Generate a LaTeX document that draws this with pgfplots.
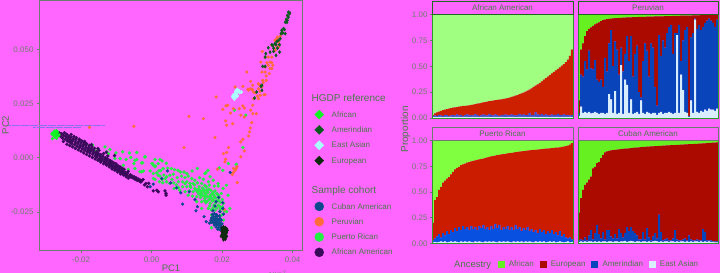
\documentclass[border=0pt]{standalone}
\usepackage{pgfplots}
\usepackage{pgfplotstable}
\usepackage{fontspec}
\setmainfont{Liberation Sans}
\pgfplotsset{compat=1.18}
\definecolor{bg}{HTML}{FF66FF}
\definecolor{txt}{HTML}{4A7A4A}
\definecolor{tickc}{HTML}{6E7E6E}
\definecolor{gborder}{HTML}{2A9A2A}
\definecolor{cCu}{HTML}{0A4A8C}
\definecolor{cPe}{HTML}{FF6B3A}
\definecolor{cPr}{HTML}{22EE44}
\definecolor{cAa}{HTML}{3A0A5A}
\definecolor{rAf}{HTML}{11F522}
\definecolor{rAm}{HTML}{0B5A1E}
\definecolor{rEa}{HTML}{AAFFFF}
\definecolor{rEu}{HTML}{0E2A0E}
\definecolor{kAf}{HTML}{66F022}
\definecolor{kEu}{HTML}{AA0A00}
\definecolor{kAm}{HTML}{0A44BB}
\definecolor{kEa}{HTML}{D8EEFF}
\definecolor{lAf}{HTML}{A0FF80}
\definecolor{lEu}{HTML}{CC2000}
\definecolor{lAm}{HTML}{4050C8}
\definecolor{mAf}{HTML}{80FF40}
\definecolor{mEu}{HTML}{CC1C00}
\definecolor{mAm}{HTML}{0850E0}
\definecolor{stray}{HTML}{8A70F0}

% tops of the East Asian, Amerindian and European segments, bar by bar
\pgfplotstableread[row sep=\\]{
a b c\\
.008 .02 .03\\ .01 .025 .045\\ .008 .02 .055\\ .01 .03 .062\\ .012 .025 .07\\ .008 .02 .075\\ .01 .03 .08\\ .012 .03 .085\\ .01 .02 .09\\ .012 .025 .095\\
.008 .03 .10\\ .01 .025 .103\\ .01 .035 .106\\ .012 .025 .11\\ .008 .03 .113\\ .01 .02 .116\\ .012 .03 .118\\ .01 .035 .12\\ .008 .025 .123\\ .01 .03 .127\\
.012 .025 .13\\ .01 .04 .134\\ .01 .03 .138\\ .008 .02 .142\\ .012 .03 .146\\ .01 .035 .15\\ .01 .03 .154\\ .012 .025 .158\\ .01 .04 .162\\ .008 .03 .165\\
.01 .025 .168\\ .012 .035 .172\\ .01 .03 .175\\ .01 .02 .178\\ .012 .03 .181\\ .01 .03 .184\\ .008 .035 .188\\ .01 .025 .192\\ .012 .03 .197\\ .01 .035 .203\\
.01 .03 .21\\ .008 .025 .216\\ .012 .03 .222\\ .01 .04 .23\\ .01 .03 .238\\ .012 .035 .246\\ .01 .03 .255\\ .008 .03 .265\\ .01 .05 .275\\ .012 .03 .287\\
.01 .03 .30\\ .01 .06 .312\\ .008 .035 .325\\ .012 .03 .34\\ .01 .04 .355\\ .01 .03 .37\\ .012 .035 .385\\ .01 .03 .40\\ .008 .025 .415\\ .01 .035 .43\\
.012 .03 .445\\ .01 .03 .46\\ .01 .04 .475\\ .008 .03 .49\\ .012 .03 .505\\ .01 .035 .52\\ .01 .03 .54\\ .012 .03 .565\\ .01 .025 .60\\ .008 .03 .66\\
}\tabAA
\pgfplotstableread[row sep=\\]{
a b c\\
.02 .05 .17\\ .11 .42 .66\\ .05 .40 .72\\ .06 .55 .79\\ .05 .47 .84\\ .06 .65 .86\\ .045 .48 .875\\ .05 .47 .89\\ .06 .56 .905\\ .05 .37 .915\\
.04 .35 .925\\ .05 .37 .935\\ .05 .30 .945\\ .04 .58 .95\\ .05 .45 .955\\ .23 .72 .958\\ .18 .85 .96\\ .05 .50 .962\\ .26 .74 .964\\ .04 .66 .966\\
.05 .42 .967\\ .51 .68 .968\\ .04 .45 .969\\ .37 .62 .97\\ .32 .79 .971\\ .05 .55 .972\\ .18 .79 .973\\ .04 .40 .974\\ .05 .62 .975\\ .06 .70 .975\\
.04 .25 .976\\ .17 .20 .977\\ .05 .55 .977\\ .04 .72 .978\\ .06 .65 .979\\ .05 .40 .979\\ .04 .72 .98\\ .05 .68 .98\\ .05 .30 .981\\ .03 .12 .981\\
.05 .80 .982\\ .06 .60 .982\\ .04 .75 .983\\ .05 .68 .984\\ .05 .82 .984\\ .06 .88 .985\\ .05 .90 .985\\ .04 .62 .986\\ .05 .82 .986\\ .80 .82 .987\\
.05 .90 .987\\ .42 .55 .988\\ .27 .75 .988\\ .06 .85 .989\\ .05 .88 .989\\ .01 .02 .99\\ .17 .78 .99\\ .05 .82 .991\\ .95 .96 .991\\ .06 .86 .992\\
.05 .90 .992\\ .07 .85 .993\\ .06 .88 .993\\ .08 .92 .994\\ .07 .94 .994\\ .09 .96 .995\\ .08 .94 .995\\ .08 .92 .995\\ .07 .88 .995\\ .09 .95 .995\\
}\tabPE
\pgfplotstableread[row sep=\\]{
a b c\\
.01 .03 .20\\ .015 .05 .42\\ .01 .07 .45\\ .015 .09 .52\\ .02 .06 .55\\ .015 .10 .59\\ .02 .08 .61\\ .01 .12 .63\\ .015 .09 .645\\ .02 .13 .67\\
.015 .11 .695\\ .02 .15 .72\\ .015 .12 .735\\ .01 .16 .745\\ .02 .13 .76\\ .015 .17 .768\\ .02 .14 .775\\ .015 .16 .785\\ .02 .13 .79\\ .015 .17 .797\\
.01 .14 .803\\ .02 .16 .808\\ .015 .13 .812\\ .02 .17 .817\\ .015 .15 .82\\ .01 .18 .825\\ .02 .14 .83\\ .015 .16 .835\\ .02 .13 .84\\ .015 .17 .845\\
.02 .14 .849\\ .015 .19 .853\\ .01 .15 .857\\ .02 .18 .861\\ .015 .13 .865\\ .02 .16 .868\\ .015 .14 .871\\ .02 .17 .874\\ .015 .13 .877\\ .01 .16 .88\\
.02 .13 .883\\ .015 .18 .886\\ .02 .14 .889\\ .015 .16 .892\\ .02 .12 .895\\ .01 .15 .897\\ .02 .13 .90\\ .015 .16 .902\\ .02 .12 .904\\ .015 .14 .906\\
.01 .11 .908\\ .02 .13 .91\\ .015 .10 .912\\ .02 .14 .914\\ .015 .11 .916\\ .02 .13 .918\\ .01 .09 .92\\ .015 .12 .922\\ .02 .10 .924\\ .015 .13 .926\\
.02 .09 .928\\ .01 .11 .93\\ .015 .08 .932\\ .02 .12 .934\\ .015 .07 .937\\ .01 .09 .94\\ .015 .06 .945\\ .02 .05 .95\\ .01 .06 .96\\ .015 .04 .975\\
}\tabPR
\pgfplotstableread[row sep=\\]{
a b c\\
.015 .03 .30\\ .02 .04 .44\\ .015 .03 .52\\ .02 .06 .57\\ .015 .03 .59\\ .02 .08 .62\\ .02 .13 .65\\ .015 .04 .73\\ .02 .10 .745\\ .015 .18 .78\\
.02 .09 .79\\ .015 .05 .83\\ .02 .11 .86\\ .02 .04 .885\\ .015 .13 .895\\ .02 .13 .90\\ .02 .07 .905\\ .015 .05 .907\\ .02 .09 .91\\ .02 .05 .912\\
.015 .14 .914\\ .02 .10 .916\\ .02 .06 .918\\ .025 .10 .92\\ .015 .16 .922\\ .02 .12 .924\\ .025 .16 .926\\ .02 .12 .928\\ .015 .10 .93\\ .02 .08 .932\\
.02 .04 .934\\ .015 .04 .936\\ .02 .11 .937\\ .02 .04 .938\\ .015 .15 .94\\ .02 .06 .94\\ .015 .03 .942\\ .02 .07 .944\\ .025 .10 .945\\ .02 .05 .946\\
.015 .28 .947\\ .02 .11 .948\\ .015 .03 .95\\ .02 .04 .951\\ .02 .05 .952\\ .015 .03 .953\\ .02 .03 .954\\ .02 .05 .955\\ .015 .13 .956\\ .02 .04 .957\\
.015 .03 .958\\ .02 .03 .96\\ .02 .04 .961\\ .015 .05 .962\\ .02 .03 .963\\ .015 .08 .964\\ .02 .04 .965\\ .015 .03 .966\\ .02 .03 .967\\ .02 .04 .968\\
.015 .03 .969\\ .02 .03 .97\\ .015 .14 .971\\ .02 .11 .972\\ .015 .03 .975\\ .02 .03 .977\\ .015 .03 .978\\ .015 .02 .98\\ .012 .02 .98\\ .012 .02 .982\\
}\tabCU

\newcommand{\stackbars}[5]{%
  \addplot[fill=#5,draw=none] table[x expr=\coordindex,y=a] {#1};
  \addplot[fill=#4,draw=none] table[x expr=\coordindex,y expr=\thisrow{b}-\thisrow{a}] {#1};
  \addplot[fill=#3,draw=none] table[x expr=\coordindex,y expr=\thisrow{c}-\thisrow{b}] {#1};
  \addplot[fill=#2,draw=none] table[x expr=\coordindex,y expr=1-\thisrow{c}] {#1};
}
\pgfplotsset{
  facet/.style={
    scale only axis, ybar stacked, bar width=1, axis on top,
    xmin=-0.5, xmax=69.5, ymin=0, ymax=1,
    xtick=\empty,
    axis line style={gborder,line width=0.9pt},
    tick style={tickc,line width=0.5pt},
    major tick length=2pt,
    tick align=outside,
    tick pos=left,
    tick label style={font=\fontsize{8}{9}\selectfont,text=tickc},
    yticklabel style={xshift=1pt},
  },
  leftcol/.style={ytick={0,0.25,0.5,0.75,1},yticklabels={0.00,0.25,0.50,0.75,1.00}},
  rightcol/.style={ytick=\empty},
}
\begin{document}
\begin{tikzpicture}[x=1pt,y=1pt]
\path[use as bounding box,fill=bg] (0,0) rectangle (720,273);
\begin{axis}[
  at={(39.5pt,22.5pt)},anchor=south west,scale only axis,width=263pt,height=250pt,
  xmin=-0.03177,xmax=0.0428,ymin=-0.0428,ymax=0.0725,
  clip=false,
  axis line style={tickc,line width=0.9pt},
  tick style={tickc,line width=0.5pt},major tick length=2.5pt,tick align=outside,tick pos=left,
  xtick={-0.02,0,0.02,0.04},xticklabels={-0.02,0.00,0.02,0.04},
  ytick={-0.025,0,0.025,0.05},yticklabels={-0.025,0.000,0.025,0.050},
  tick label style={font=\fontsize{8}{9}\selectfont,text=tickc},
]
% Puerto Rican
\addplot[only marks,mark=*,mark size=1.5pt,color=cPr] coordinates {
(-.0184,.0062)(-.0167,.0058)(-.0132,.0050)(-.0127,.0027)(-.0118,.0038)(-.0122,.0019)(-.0157,.0031)(-.0101,.0022)(-.0082,.0027)(-.0063,.0022)(-.0042,.0024)(-.0018,.0004)(.0010,-.0008)(-.0104,-.0004)(-.0089,-.0004)(-.0072,-.0008)(-.0059,.0001)(-.0047,-.0012)(-.0042,-.0009)(-.0028,-.0024)(-.0050,-.0027)(-.0080,-.0035)(-.0066,-.0054)(-.0047,-.0050)(-.0033,-.0065)(-.0023,-.0061)(.0001,-.0027)(.0005,-.0034)(.0010,-.0042)(.0019,-.0027)(-.0004,-.0061)(.0005,-.0073)(.0015,-.0070)(.0019,-.0081)(.0005,-.0096)
(-.0019,.0004)(-.0025,-.0024)(-.0028,-.0065)(.0024,-.0008)(.0030,-.0015)(.0042,-.0026)(.0003,-.0027)(.0011,-.0039)(.0021,-.0060)(.0039,-.0096)(.0026,-.0060)(.0033,-.0050)(.0046,-.0048)(.0056,-.0050)(.0065,-.0055)(.0075,-.0058)(.0082,-.0066)(.0092,-.0066)(.0100,-.0073)(.0115,-.0061)(.0130,-.0050)(.0154,-.0070)(.0166,-.0088)
(.0024,-.0085)(.0035,-.0080)(.0043,-.0088)(.0052,-.0081)(.0062,-.0076)(.0073,-.0092)(.0085,-.0085)(.0095,-.0092)(.0104,-.0085)(.0114,-.0096)(.0123,-.0104)(.0136,-.0092)(.0147,-.0100)(.0161,-.0111)(.0175,-.0104)(.0189,-.0119)
(.0010,-.0100)(.0022,-.0111)(.0032,-.0116)(.0043,-.0111)(.0052,-.0119)(.0063,-.0116)(.0076,-.0111)(.0088,-.0111)(.0100,-.0111)(.0109,-.0119)(.0118,-.0119)(.0130,-.0116)(.0142,-.0119)(.0151,-.0127)(.0164,-.0127)(.0178,-.0131)(.0189,-.0131)(.0203,-.0142)
(.0064,-.0142)(.0076,-.0137)(.0088,-.0134)(.0100,-.0134)(.0111,-.0137)(.0123,-.0142)(.0135,-.0134)(.0147,-.0146)(.0156,-.0150)(.0168,-.0150)(.0180,-.0153)
(.0095,-.0157)(.0107,-.0153)(.0118,-.0157)(.0130,-.0157)(.0142,-.0165)(.0154,-.0168)(.0166,-.0173)(.0177,-.0173)(.0189,-.0173)(.0198,-.0165)
(.0104,-.0173)(.0116,-.0177)(.0128,-.0180)(.0139,-.0184)(.0151,-.0188)(.0164,-.0193)(.0175,-.0196)(.0189,-.0196)(.0201,-.0193)
(.0128,-.0203)(.0142,-.0203)(.0154,-.0208)(.0166,-.0211)(.0177,-.0219)(.0189,-.0219)(.0204,-.0211)(.0194,-.0226)(.0180,-.0242)(.0194,-.0249)(.0206,-.0245)(.0213,-.0249)(.0161,-.0234)(.0170,-.0265)(.0199,-.0265)(.0204,-.0288)(.0194,-.0311)(.0170,-.0323)(.0142,-.0234)(.0222,-.0234)(.0201,-.0226)(.0212,-.0127)(.0217,-.0173)(.0202,-.0234)(.0151,-.0073)(.0160,-.0058)
(.0110,-.0130)(.0122,-.0125)(.0133,-.0145)(.0145,-.0140)(.0155,-.0135)(.0140,-.0155)(.0150,-.0160)(.0160,-.0160)(.0172,-.0165)(.0133,-.0165)(.0145,-.0175)(.0158,-.0180)(.0170,-.0185)(.0182,-.0185)(.0150,-.0198)(.0172,-.0200)(.0182,-.0208)
(.0235,.0219)(.0267,.0196)(.0259,.0047)(.0218,-.0027)(.0240,-.0030)(.0192,-.0047)(.0202,-.0058)
(.0125,-.0148)(.0138,-.0152)(.0148,-.0152)(.0162,-.0145)(.0175,-.0160)(.0185,-.0165)(.0138,-.0172)(.0152,-.0178)(.0165,-.0180)(.0178,-.0182)(.0192,-.0182)(.0158,-.0200)(.0185,-.0200)(.0195,-.0205)(.0165,-.0222)(.0185,-.0232)(.0175,-.0230)(.0195,-.0238)(.0170,-.0240)(.0030,-.0100)(.0058,-.0100)(.0070,-.0125)(.0095,-.0120)(.0080,-.0150)
};
% Peruvian
\addplot[only marks,mark=*,mark size=1.4pt,color=cPe] coordinates {
(.0357,.0556)(.0365,.0561)(.0350,.0541)(.0360,.0533)(.0353,.0518)(.0360,.0510)(.0348,.0503)(.0351,.0495)(.0341,.0518)(.0355,.0549)(.0314,.0490)(.0331,.0464)(.0322,.0464)(.0341,.0464)(.0336,.0441)(.0310,.0441)(.0327,.0438)(.0341,.0438)(.0331,.0426)(.0344,.0426)(.0322,.0418)(.0336,.0411)(.0341,.0411)(.0270,.0395)(.0313,.0395)(.0322,.0395)(.0334,.0388)(.0325,.0377)(.0315,.0357)(.0325,.0357)(.0281,.0352)(.0306,.0337)(.0317,.0346)(.0303,.0341)(.0287,.0334)(.0259,.0329)(.0313,.0326)(.0273,.0315)(.0284,.0315)(.0303,.0318)(.0308,.0306)(.0289,.0303)(.0294,.0300)(.0322,.0291)(.0237,.0326)
(.0183,.0280)(.0211,.0239)(.0216,.0242)(.0202,.0223)(.0232,.0226)(.0224,.0206)(.0249,.0226)(.0259,.0239)(.0263,.0229)(.0253,.0196)(.0263,.0188)(.0281,.0219)(.0287,.0242)(.0287,.0203)(.0297,.0203)(.0284,.0162)(.0147,.0180)(.0210,.0170)(.0230,.0157)(.0213,.0150)(.0280,.0137)(.0278,.0119)(.0275,.0100)(.0180,.0093)(.0259,.0085)(.0253,.0073)(.0218,.0047)(.0263,.0031)(.0213,.0024)(.0204,.0019)(.0210,-.0007)(.0253,.0004)(.0187,-.0053)(.0208,-.0019)(.0232,-.0049)(.0242,-.0042)(.0237,-.0058)(.0232,-.0068)(.0240,-.0050)(.0229,-.0078)
(.0289,.0272)(.0300,.0284)(.0308,.0288)(.0280,.0318)(.0286,.0315)(.0303,.0272)(.0319,.0290)(.0275,.0311)
(.0106,.0191)(-.0050,.0145)(-.0176,.0140)(.0092,.0047)(.0200,-.0340)(.0243,-.0115)(.0205,-.0350)(.0207,-.0240)
};
% Cuban American
\addplot[only marks,mark=*,mark size=1.4pt,color=cCu] coordinates {
(.0126,-.0245)(.0130,-.0226)(.0149,-.0272)(.0155,-.0295)(.0088,-.0214)(.0045,-.0061)(.0029,-.0096)(.0005,-.0122)(-.0004,-.0134)(.0071,-.0139)(.0083,-.0162)(.0107,-.0157)(.0054,-.0116)(.0123,-.0193)(.0190,-.0183)(.0202,-.0208)(.0180,-.0223)(.0202,-.0234)(.0194,-.0249)(.0174,-.0245)(.0204,-.0260)(.0183,-.0203)(.0223,-.0068)
(.0172,-.0262)(.0178,-.0258)(.0184,-.0262)(.0175,-.0270)(.0181,-.0272)(.0187,-.0270)(.0193,-.0268)(.0170,-.0278)(.0176,-.0281)(.0182,-.0280)(.0188,-.0283)(.0194,-.0280)(.0168,-.0288)(.0174,-.0290)(.0180,-.0290)(.0186,-.0292)(.0192,-.0290)(.0198,-.0288)(.0170,-.0298)(.0176,-.0300)(.0182,-.0299)(.0188,-.0302)(.0194,-.0300)(.0200,-.0305)(.0164,-.0302)(.0178,-.0310)(.0185,-.0310)(.0191,-.0312)(.0197,-.0310)(.0183,-.0320)(.0190,-.0322)(.0197,-.0320)(.0203,-.0322)(.0188,-.0330)(.0195,-.0332)(.0201,-.0335)
};
% African American
\addplot[only marks,mark=*,mark size=1.5pt,color=cAa] coordinates {
(-.0269,.0111)(-.0264,.0103)(-.0262,.0115)(-.0258,.0098)(-.0255,.0110)(-.0252,.0090)(-.0250,.0103)(-.0247,.0115)(-.0245,.0085)(-.0243,.0097)(-.0241,.0108)(-.0239,.0078)(-.0237,.0090)(-.0235,.0100)(-.0233,.0072)(-.0231,.0083)(-.0229,.0094)(-.0228,.0107)(-.0226,.0065)(-.0224,.0077)(-.0222,.0087)(-.0220,.0098)(-.0218,.0060)(-.0216,.0071)(-.0215,.0082)(-.0213,.0092)(-.0211,.0053)(-.0209,.0064)(-.0207,.0074)(-.0205,.0085)(-.0204,.0047)(-.0202,.0057)(-.0200,.0068)(-.0198,.0078)(-.0196,.0041)(-.0195,.0051)(-.0193,.0061)(-.0191,.0070)(-.0189,.0034)(-.0187,.0045)(-.0186,.0055)(-.0184,.0064)
(-.0182,.0028)(-.0180,.0038)(-.0178,.0047)(-.0176,.0057)(-.0175,.0022)(-.0173,.0031)(-.0171,.0040)(-.0169,.0050)(-.0167,.0016)(-.0165,.0025)(-.0164,.0034)(-.0162,.0043)(-.0160,.0008)(-.0158,.0018)(-.0156,.0027)(-.0155,.0002)(-.0153,.0011)(-.0151,.0020)(-.0149,.0034)(-.0147,-.0005)(-.0146,.0005)(-.0144,.0014)(-.0142,-.0011)(-.0140,-.0002)(-.0138,.0007)(-.0136,.0019)(-.0135,-.0018)(-.0133,-.0009)(-.0131,.0000)(-.0129,-.0024)(-.0127,-.0015)(-.0125,-.0006)(-.0124,.0008)(-.0122,-.0030)(-.0120,-.0021)(-.0118,-.0012)(-.0116,-.0036)(-.0115,-.0027)(-.0113,-.0018)(-.0111,-.0043)(-.0109,-.0034)(-.0107,-.0024)
(-.0105,-.0048)(-.0103,-.0039)(-.0101,-.0028)(-.0100,-.0054)(-.0098,-.0045)(-.0096,-.0036)(-.0094,-.0060)(-.0092,-.0051)(-.0090,-.0042)(-.0088,-.0066)(-.0086,-.0057)(-.0084,-.0048)(-.0082,-.0071)(-.0080,-.0062)(-.0078,-.0053)(-.0076,-.0076)(-.0074,-.0068)(-.0071,-.0080)(-.0069,-.0072)(-.0066,-.0063)(-.0063,-.0084)(-.0060,-.0079)(-.0058,-.0090)(-.0055,-.0085)(-.0052,-.0094)(-.0049,-.0089)(-.0046,-.0100)(-.0043,-.0094)(-.0040,-.0105)(-.0037,-.0099)(-.0034,-.0108)(-.0031,-.0104)
(-.0028,-.0107)(-.0024,-.0101)(-.0016,-.0119)(-.0030,-.0112)(-.0012,-.0134)(.0005,-.0153)(.0015,-.0150)(.0019,-.0157)(.0038,-.0153)(.0041,-.0165)(.0041,-.0173)(-.0008,-.0118)(-.0020,-.0125)
(-.0228,.0075)(-.0190,.0075)(-.0170,.0060)(-.0152,.0042)(-.0128,.0025)(-.0105,.0010)(-.0145,-.0013)(-.0112,-.0048)
(-.0250,.0075)(-.0240,.0062)(-.0232,.0056)(-.0224,.0050)(-.0216,.0043)(-.0208,.0036)(-.0200,.0030)(-.0192,.0022)(-.0184,.0015)(-.0176,.0008)(-.0168,.0001)(-.0160,-.0006)(-.0152,-.0012)(-.0144,-.0020)(-.0136,-.0028)(-.0128,-.0034)(-.0120,-.0042)(-.0112,-.0052)(-.0104,-.0058)(-.0096,-.0066)(-.0088,-.0075)(-.0080,-.0080)(-.0072,-.0088)(-.0066,-.0094)
};
% HGDP reference
\addplot[only marks,mark=diamond*,mark size=1.6pt,color=rEa] coordinates {
(.0232,.0275)(.0234,.0285)(.0236,.0295)(.0238,.0305)(.0240,.0310)(.0243,.0315)(.0235,.0270)(.0240,.0280)(.0242,.0295)(.0245,.0305)(.0250,.0300)(.0232,.0290)(.0248,.0310)(.0238,.0290)(.0255,.0303)(.0229,.0282)(.0244,.0285)
};
\addplot[only marks,mark=diamond*,mark size=1.6pt,color=rAf] coordinates {
(-.0283,.0110)(-.0279,.0115)(-.0276,.0122)(-.0274,.0108)(-.0272,.0118)(-.0270,.0125)(-.0278,.0103)(-.0271,.0100)(-.0268,.0112)(-.0266,.0120)(-.0274,.0095)(-.0269,.0090)(-.0265,.0100)(-.0281,.0088)(-.0262,.0105)
};
\addplot[only marks,mark=diamond*,mark size=1.6pt,color=rAm] coordinates {
(.0388,.0671)(.0391,.0664)(.0385,.0656)(.0388,.0648)(.0382,.0638)(.0385,.0634)(.0379,.0625)(.0384,.0625)(.0392,.0668)(.0374,.0595)(.0369,.0587)(.0377,.0591)(.0367,.0572)(.0372,.0575)(.0379,.0572)(.0365,.0549)(.0360,.0541)(.0355,.0536)(.0350,.0526)(.0344,.0518)(.0341,.0521)(.0353,.0521)(.0363,.0521)(.0331,.0507)(.0357,.0505)(.0346,.0505)(.0336,.0487)(.0346,.0490)(.0324,.0480)(.0353,.0472)(.0363,.0487)(.0322,.0464)(.0315,.0421)(.0322,.0421)(.0310,.0329)(.0313,.0334)(.0313,.0311)(.0298,.0303)(.0292,.0275)
};
\addplot[only marks,mark=diamond*,mark size=1.6pt,color=rEu] coordinates {
(.0199,-.0325)(.0204,-.0320)(.0209,-.0322)(.0213,-.0328)(.0201,-.0332)(.0206,-.0330)(.0211,-.0335)(.0215,-.0335)(.0199,-.0340)(.0204,-.0342)(.0209,-.0341)(.0213,-.0345)(.0201,-.0350)(.0206,-.0352)(.0211,-.0350)(.0199,-.0358)(.0204,-.0360)(.0209,-.0358)(.0213,-.0362)(.0202,-.0368)(.0207,-.0370)(.0211,-.0368)(.0204,-.0378)(.0209,-.0376)(.0197,-.0362)
};
% stray hairlines across the left margin
\addplot[sharp plot,no marks,color=stray,line width=0.7pt,dash pattern=on 1.5pt off 0.3pt] coordinates {(-.0407,.0149)(-.0132,.0149)};
\addplot[sharp plot,no marks,color=stray,line width=0.6pt,dash pattern=on 1.5pt off 0.3pt] coordinates {(-.0336,.0142)(-.0203,.0142)};
\end{axis}
\node[font=\fontsize{9.5}{11}\selectfont,text=txt] at (171,5) {PC1};
\node[font=\fontsize{9.5}{11}\selectfont,text=txt,rotate=90] at (5.5,148) {PC2};

% left legend
\begin{axis}[
  hide axis,scale only axis,at={(300pt,0pt)},anchor=south west,width=10pt,height=10pt,
  xmin=0,xmax=1,ymin=0,ymax=1,
  legend style={at={(10.5pt,181.5pt)},anchor=north west,draw=none,fill=none,inner sep=0pt,
    font=\fontsize{8}{15.3}\selectfont,text=txt,row sep=0pt,cells={anchor=west},
    nodes={inner sep=0pt,text height=10.3pt,text depth=5pt},
    /tikz/every odd column/.append style={column sep=8pt}},
  legend cell align=left,
]
\addlegendimage{empty legend}\addlegendentry{\hspace*{-20pt}\fontsize{10}{12}\selectfont HGDP reference}
\addlegendimage{only marks,mark=diamond*,mark size=4.5pt,color=rAf,mark options={xscale=1.33}}\addlegendentry{African}
\addlegendimage{only marks,mark=diamond*,mark size=4.5pt,color=rAm,mark options={xscale=1.33}}\addlegendentry{Amerindian}
\addlegendimage{only marks,mark=diamond*,mark size=4.5pt,color=rEa,mark options={xscale=1.33}}\addlegendentry{East Asian}
\addlegendimage{only marks,mark=diamond*,mark size=4.5pt,color=rEu,mark options={xscale=1.33}}\addlegendentry{European}
\addlegendimage{empty legend}\addlegendentry{}
\addlegendimage{empty legend}\addlegendentry{\hspace*{-20pt}\fontsize{10}{12}\selectfont Sample cohort}
\addlegendimage{only marks,mark=*,mark size=4.5pt,color=cCu}\addlegendentry{Cuban American}
\addlegendimage{only marks,mark=*,mark size=4.5pt,color=cPe}\addlegendentry{Peruvian}
\addlegendimage{only marks,mark=*,mark size=4.5pt,color=cPr}\addlegendentry{Puerto Rican}
\addlegendimage{only marks,mark=*,mark size=4.5pt,color=cAa}\addlegendentry{African American}
\end{axis}

% facets
\begin{axis}[facet,leftcol,at={(432pt,155pt)},anchor=south west,width=141pt,height=103.5pt]
\stackbars{\tabAA}{lAf}{lEu}{lAm}{kEa}
\end{axis}
\begin{axis}[facet,rightcol,at={(578pt,155pt)},anchor=south west,width=140pt,height=103.5pt]
\stackbars{\tabPE}{kAf}{kEu}{kAm}{kEa}
\end{axis}
\begin{axis}[facet,leftcol,at={(432pt,29.5pt)},anchor=south west,width=141pt,height=103pt,
  axis line style={gborder,line width=0.9pt}]
\stackbars{\tabPR}{mAf}{mEu}{mAm}{kEa}
\end{axis}
\begin{axis}[facet,rightcol,at={(578pt,29.5pt)},anchor=south west,width=140pt,height=103pt]
\stackbars{\tabCU}{kAf}{kEu}{kAm}{kEa}
\end{axis}

% facet strips
\draw[gborder!70!black,line width=0.9pt] (432,258.5) rectangle (573,272);
\draw[gborder!70!black,line width=0.9pt] (578,258.5) rectangle (718,272);
\draw[tickc,line width=0.9pt] (432,132.5) rectangle (573,146);
\draw[tickc,line width=0.9pt] (578,132.5) rectangle (718,146);
\node[font=\fontsize{8}{9}\selectfont,text=txt] at (502.5,265.5) {African American};
\node[font=\fontsize{8}{9}\selectfont,text=txt] at (648,265.5) {Peruvian};
\node[font=\fontsize{8}{9}\selectfont,text=txt] at (502.5,139.5) {Puerto Rican};
\node[font=\fontsize{8}{9}\selectfont,text=txt] at (648,139.5) {Cuban American};
\node[font=\fontsize{10}{11}\selectfont,text=txt,rotate=90] at (405.5,143.5) {Proportion};
\node[font=\fontsize{9.5}{11}\selectfont,text=txt,anchor=west,inner sep=0pt] at (454,8) {Ancestry};

% bottom legend
\begin{axis}[
  hide axis,scale only axis,at={(490pt,0pt)},anchor=south west,width=10pt,height=10pt,
  xmin=0,xmax=1,ymin=0,ymax=1,
  legend columns=4,
  legend style={at={(7.7pt,8.5pt)},anchor=west,draw=none,fill=none,inner sep=0pt,
    font=\fontsize{8}{9}\selectfont,text=txt,
    nodes={inner sep=0pt},
    /tikz/every odd column/.append style={column sep=5pt},
    /tikz/every even column/.append style={column sep=6pt}},
]
\addlegendimage{only marks,mark=square*,mark size=3pt,color=kAf}\addlegendentry{African}
\addlegendimage{only marks,mark=square*,mark size=3pt,color=kEu}\addlegendentry{European}
\addlegendimage{only marks,mark=square*,mark size=3pt,color=kAm}\addlegendentry{Amerindian}
\addlegendimage{only marks,mark=square*,mark size=3pt,color=kEa}\addlegendentry{East Asian}
\end{axis}
\end{tikzpicture}
\end{document}
